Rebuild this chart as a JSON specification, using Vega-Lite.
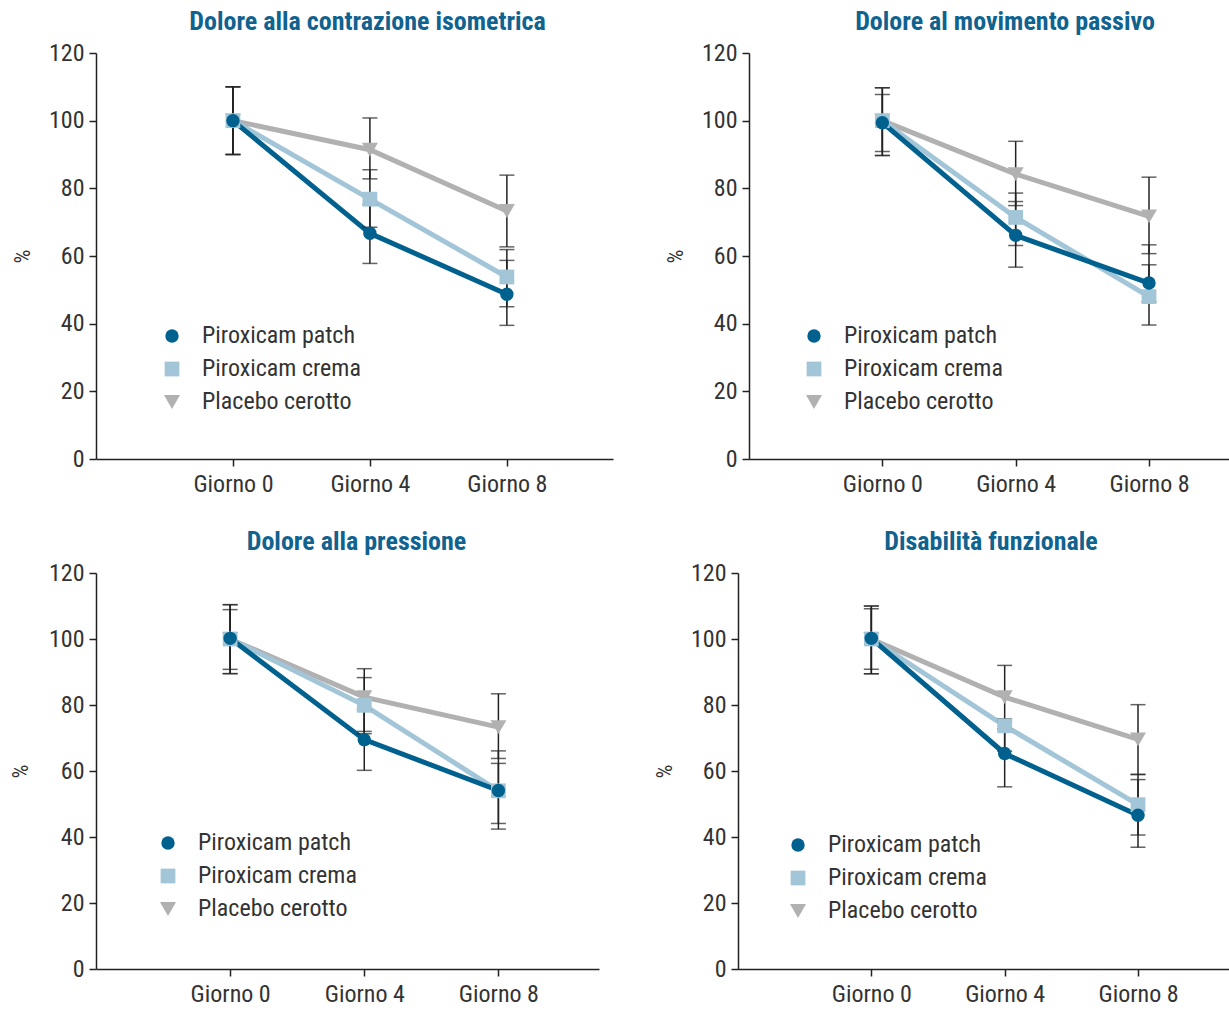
{
  "$schema": "https://vega.github.io/schema/vega-lite/v6.json",
  "background": "white",
  "padding": {"left": 9, "top": 9, "right": 0, "bottom": 0},
  "config": {
    "view": {"stroke": null},
    "font": "Roboto Condensed, Roboto, sans-serif",
    "axis": {
      "grid": false,
      "domainColor": "#222222",
      "domainWidth": 1.5,
      "tickColor": "#222222",
      "tickWidth": 1.5,
      "tickSize": 7,
      "labelFont": "Roboto Condensed, Roboto, sans-serif",
      "labelFontSize": 24,
      "labelColor": "#333333",
      "labelPadding": 5,
      "titleFont": "Roboto Condensed, Roboto, sans-serif",
      "titleFontSize": 22,
      "titleFontWeight": "normal",
      "titleColor": "#333333"
    },
    "title": {
      "font": "Roboto Condensed, Roboto, sans-serif",
      "fontSize": 26,
      "fontWeight": "bold",
      "color": "#10628f",
      "anchor": "middle",
      "frame": "group",
      "offset": 6
    },
    "legend": {
      "orient": "none",
      "title": null,
      "padding": 0,
      "symbolSize": 5329,
      "clipHeight": 26,
      "rowPadding": 7,
      "labelOffset": 18,
      "labelFontSize": 24,
      "labelColor": "#333333",
      "labelFont": "Roboto Condensed, Roboto, sans-serif"
    }
  },
  "datasets": {
    "d": [
      {"panel": "A", "series": "Placebo cerotto", "day": 0, "v": 100, "lo": 90, "hi": 110},
      {"panel": "A", "series": "Placebo cerotto", "day": 4, "v": 91.4, "lo": 82.8, "hi": 100.8},
      {"panel": "A", "series": "Placebo cerotto", "day": 8, "v": 73.3, "lo": 62.7, "hi": 83.9},
      {"panel": "A", "series": "Piroxicam crema", "day": 0, "v": 100, "lo": 90, "hi": 110},
      {"panel": "A", "series": "Piroxicam crema", "day": 4, "v": 76.8, "lo": 68.5, "hi": 85.5},
      {"panel": "A", "series": "Piroxicam crema", "day": 8, "v": 53.8, "lo": 45, "hi": 61.9},
      {"panel": "A", "series": "Piroxicam patch", "day": 0, "v": 100, "lo": 90, "hi": 110},
      {"panel": "A", "series": "Piroxicam patch", "day": 4, "v": 66.7, "lo": 57.8, "hi": 75.2},
      {"panel": "A", "series": "Piroxicam patch", "day": 8, "v": 48.7, "lo": 39.5, "hi": 58.7},

      {"panel": "B", "series": "Placebo cerotto", "day": 0, "v": 100, "lo": 89.7, "hi": 109.7},
      {"panel": "B", "series": "Placebo cerotto", "day": 4, "v": 84.2, "lo": 74.9, "hi": 93.9},
      {"panel": "B", "series": "Placebo cerotto", "day": 8, "v": 71.7, "lo": 60.7, "hi": 83.3},
      {"panel": "B", "series": "Piroxicam crema", "day": 0, "v": 100, "lo": 89.7, "hi": 109.7},
      {"panel": "B", "series": "Piroxicam crema", "day": 4, "v": 71.4, "lo": 63.1, "hi": 78.6},
      {"panel": "B", "series": "Piroxicam crema", "day": 8, "v": 48.0, "lo": 46.5, "hi": 57.4},
      {"panel": "B", "series": "Piroxicam patch", "day": 0, "v": 99.4, "lo": 90.9, "hi": 107.7},
      {"panel": "B", "series": "Piroxicam patch", "day": 4, "v": 66.1, "lo": 56.7, "hi": 76.1},
      {"panel": "B", "series": "Piroxicam patch", "day": 8, "v": 52.0, "lo": 39.6, "hi": 63.3},

      {"panel": "C", "series": "Placebo cerotto", "day": 0, "v": 100, "lo": 89.5, "hi": 110.4},
      {"panel": "C", "series": "Placebo cerotto", "day": 4, "v": 82.4, "lo": 72.0, "hi": 91.0},
      {"panel": "C", "series": "Placebo cerotto", "day": 8, "v": 73.3, "lo": 63.8, "hi": 83.4},
      {"panel": "C", "series": "Piroxicam crema", "day": 0, "v": 100, "lo": 89.5, "hi": 110.4},
      {"panel": "C", "series": "Piroxicam crema", "day": 4, "v": 79.9, "lo": 71.3, "hi": 88.3},
      {"panel": "C", "series": "Piroxicam crema", "day": 8, "v": 54.0, "lo": 44.1, "hi": 62.3},
      {"panel": "C", "series": "Piroxicam patch", "day": 0, "v": 100.2, "lo": 90.8, "hi": 108.9},
      {"panel": "C", "series": "Piroxicam patch", "day": 4, "v": 69.5, "lo": 60.2, "hi": 78.5},
      {"panel": "C", "series": "Piroxicam patch", "day": 8, "v": 54.1, "lo": 42.4, "hi": 66.1},

      {"panel": "D", "series": "Placebo cerotto", "day": 0, "v": 100, "lo": 89.5, "hi": 110},
      {"panel": "D", "series": "Placebo cerotto", "day": 4, "v": 82.4, "lo": 72.8, "hi": 92.0},
      {"panel": "D", "series": "Placebo cerotto", "day": 8, "v": 69.6, "lo": 58.9, "hi": 80.1},
      {"panel": "D", "series": "Piroxicam crema", "day": 0, "v": 100, "lo": 89.5, "hi": 110},
      {"panel": "D", "series": "Piroxicam crema", "day": 4, "v": 73.7, "lo": 66.0, "hi": 75.8},
      {"panel": "D", "series": "Piroxicam crema", "day": 8, "v": 49.8, "lo": 40.6, "hi": 59.0},
      {"panel": "D", "series": "Piroxicam patch", "day": 0, "v": 100.2, "lo": 90.8, "hi": 109.2},
      {"panel": "D", "series": "Piroxicam patch", "day": 4, "v": 65.3, "lo": 55.2, "hi": 75.1},
      {"panel": "D", "series": "Piroxicam patch", "day": 8, "v": 46.6, "lo": 36.9, "hi": 57.4}
    ]
  },
  "spacing": 33,
  "resolve": {
    "scale": {"color": "independent", "shape": "independent", "size": "independent"},
    "legend": {"color": "independent", "shape": "independent", "size": "independent"}
  },
  "vconcat": [
    {
      "spacing": 51,
      "resolve": {
        "scale": {"color": "independent", "shape": "independent", "size": "independent"},
        "legend": {"color": "independent", "shape": "independent", "size": "independent"}
      },
      "hconcat": [
        {
          "width": 517, "height": 406,
          "title": {"text": "Dolore alla contrazione isometrica", "dx": 13},
          "data": {"name": "d"},
          "transform": [{"filter": "datum.panel === 'A'"}],
          "encoding": {
            "x": {"field": "day", "type": "quantitative", "scale": {"domain": [-4, 11.1], "nice": false, "zero": false}, "axis": {"values": [0, 4, 8], "labelExpr": "'Giorno ' + datum.value", "title": null, "labelPadding": 6}}
          },
          "layer": [
            {"mark": {"type": "line", "strokeWidth": 5}, "encoding": {"y": {"field": "v", "type": "quantitative", "title": "%", "scale": {"domain": [0, 120], "nice": false}, "axis": {"values": [0, 20, 40, 60, 80, 100, 120], "title": "%", "titlePadding": 14}}, "color": {"field": "series", "type": "nominal", "scale": {"domain": ["Piroxicam patch", "Piroxicam crema", "Placebo cerotto"], "range": ["#00618e", "#a3c5d8", "#b1b1b1"]},
                "legend": {"legendX": 64, "legendY": 270, "encode": {"symbols": {"update": {"shape": {"signal": "datum.value === 'Piroxicam patch' ? 'M-1,-0.07H1V0.07H-1Z M-0.2,0A0.2,0.2 0 1,1 0.2,0A0.2,0.2 0 1,1 -0.2,0Z' : datum.value === 'Piroxicam crema' ? 'M-1,-0.07H1V0.07H-1Z M-0.22,-0.22H0.22V0.22H-0.22Z' : 'M-1,-0.07H1V0.07H-1Z M-0.27,-0.16H0.27L0,0.38Z'"}, "size": {"value": 5329}, "strokeWidth": {"value": 0}, "fill": {"signal": "datum.value === 'Piroxicam patch' ? '#00618e' : datum.value === 'Piroxicam crema' ? '#a3c5d8' : '#b1b1b1'"}, "opacity": {"value": 1}}}}}}}},
            {"mark": {"type": "errorbar", "ticks": {"size": 15, "thickness": 1.5, "color": "#222222"}, "rule": {"strokeWidth": 1.5, "color": "#222222"}}, "encoding": {"y": {"field": "lo", "type": "quantitative", "title": "%"}, "y2": {"field": "hi"}}},
            {"mark": {"type": "point", "filled": true, "opacity": 1}, "encoding": {"y": {"field": "v", "type": "quantitative", "title": "%"},
              "color": {"field": "series", "type": "nominal", "scale": {"domain": ["Piroxicam patch", "Piroxicam crema", "Placebo cerotto"], "range": ["#00618e", "#a3c5d8", "#b1b1b1"]}},
              "shape": {"field": "series", "type": "nominal", "scale": {"domain": ["Piroxicam patch", "Piroxicam crema", "Placebo cerotto"], "range": ["circle", "square", "triangle-down"]}, "legend": null},
              "size": {"field": "series", "type": "nominal", "scale": {"domain": ["Piroxicam patch", "Piroxicam crema", "Placebo cerotto"], "range": [180, 256, 320]}, "legend": null}}}
          ]
        },
        {
          "width": 500, "height": 406,
          "title": {"text": "Dolore al movimento passivo", "dx": 6},
          "data": {"name": "d"},
          "transform": [{"filter": "datum.panel === 'B'"}],
          "encoding": {
            "x": {"field": "day", "type": "quantitative", "scale": {"domain": [-4, 11], "nice": false, "zero": false}, "axis": {"values": [0, 4, 8], "labelExpr": "'Giorno ' + datum.value", "title": null, "labelPadding": 6}}
          },
          "layer": [
            {"mark": {"type": "line", "strokeWidth": 5}, "encoding": {"y": {"field": "v", "type": "quantitative", "title": "%", "scale": {"domain": [0, 120], "nice": false}, "axis": {"values": [0, 20, 40, 60, 80, 100, 120], "title": "%", "titlePadding": 14}}, "color": {"field": "series", "type": "nominal", "scale": {"domain": ["Piroxicam patch", "Piroxicam crema", "Placebo cerotto"], "range": ["#00618e", "#a3c5d8", "#b1b1b1"]},
                "legend": {"legendX": 53, "legendY": 270, "encode": {"symbols": {"update": {"shape": {"signal": "datum.value === 'Piroxicam patch' ? 'M-1,-0.07H1V0.07H-1Z M-0.2,0A0.2,0.2 0 1,1 0.2,0A0.2,0.2 0 1,1 -0.2,0Z' : datum.value === 'Piroxicam crema' ? 'M-1,-0.07H1V0.07H-1Z M-0.22,-0.22H0.22V0.22H-0.22Z' : 'M-1,-0.07H1V0.07H-1Z M-0.27,-0.16H0.27L0,0.38Z'"}, "size": {"value": 5329}, "strokeWidth": {"value": 0}, "fill": {"signal": "datum.value === 'Piroxicam patch' ? '#00618e' : datum.value === 'Piroxicam crema' ? '#a3c5d8' : '#b1b1b1'"}, "opacity": {"value": 1}}}}}}}},
            {"mark": {"type": "errorbar", "ticks": {"size": 15, "thickness": 1.5, "color": "#222222"}, "rule": {"strokeWidth": 1.5, "color": "#222222"}}, "encoding": {"y": {"field": "lo", "type": "quantitative", "title": "%"}, "y2": {"field": "hi"}}},
            {"mark": {"type": "point", "filled": true, "opacity": 1}, "encoding": {"y": {"field": "v", "type": "quantitative", "title": "%"},
              "color": {"field": "series", "type": "nominal", "scale": {"domain": ["Piroxicam patch", "Piroxicam crema", "Placebo cerotto"], "range": ["#00618e", "#a3c5d8", "#b1b1b1"]}},
              "shape": {"field": "series", "type": "nominal", "scale": {"domain": ["Piroxicam patch", "Piroxicam crema", "Placebo cerotto"], "range": ["circle", "square", "triangle-down"]}, "legend": null},
              "size": {"field": "series", "type": "nominal", "scale": {"domain": ["Piroxicam patch", "Piroxicam crema", "Placebo cerotto"], "range": [180, 256, 320]}, "legend": null}}}
          ]
        }
      ]
    },
    {
      "spacing": 54,
      "resolve": {
        "scale": {"color": "independent", "shape": "independent", "size": "independent"},
        "legend": {"color": "independent", "shape": "independent", "size": "independent"}
      },
      "hconcat": [
        {
          "width": 503, "height": 396,
          "title": {"text": "Dolore alla pressione", "dx": 9},
          "data": {"name": "d"},
          "transform": [{"filter": "datum.panel === 'C'"}],
          "encoding": {
            "x": {"field": "day", "type": "quantitative", "scale": {"domain": [-4, 11], "nice": false, "zero": false}, "axis": {"values": [0, 4, 8], "labelExpr": "'Giorno ' + datum.value", "title": null, "labelPadding": 6}}
          },
          "layer": [
            {"mark": {"type": "line", "strokeWidth": 5}, "encoding": {"y": {"field": "v", "type": "quantitative", "title": "%", "scale": {"domain": [0, 120], "nice": false}, "axis": {"values": [0, 20, 40, 60, 80, 100, 120], "title": "%", "titlePadding": 16}}, "color": {"field": "series", "type": "nominal", "scale": {"domain": ["Piroxicam patch", "Piroxicam crema", "Placebo cerotto"], "range": ["#00618e", "#a3c5d8", "#b1b1b1"]},
                "legend": {"legendX": 60, "legendY": 257, "encode": {"symbols": {"update": {"shape": {"signal": "datum.value === 'Piroxicam patch' ? 'M-1,-0.07H1V0.07H-1Z M-0.2,0A0.2,0.2 0 1,1 0.2,0A0.2,0.2 0 1,1 -0.2,0Z' : datum.value === 'Piroxicam crema' ? 'M-1,-0.07H1V0.07H-1Z M-0.22,-0.22H0.22V0.22H-0.22Z' : 'M-1,-0.07H1V0.07H-1Z M-0.27,-0.16H0.27L0,0.38Z'"}, "size": {"value": 5329}, "strokeWidth": {"value": 0}, "fill": {"signal": "datum.value === 'Piroxicam patch' ? '#00618e' : datum.value === 'Piroxicam crema' ? '#a3c5d8' : '#b1b1b1'"}, "opacity": {"value": 1}}}}}}}},
            {"mark": {"type": "errorbar", "ticks": {"size": 15, "thickness": 1.5, "color": "#222222"}, "rule": {"strokeWidth": 1.5, "color": "#222222"}}, "encoding": {"y": {"field": "lo", "type": "quantitative", "title": "%"}, "y2": {"field": "hi"}}},
            {"mark": {"type": "point", "filled": true, "opacity": 1}, "encoding": {"y": {"field": "v", "type": "quantitative", "title": "%"},
              "color": {"field": "series", "type": "nominal", "scale": {"domain": ["Piroxicam patch", "Piroxicam crema", "Placebo cerotto"], "range": ["#00618e", "#a3c5d8", "#b1b1b1"]}},
              "shape": {"field": "series", "type": "nominal", "scale": {"domain": ["Piroxicam patch", "Piroxicam crema", "Placebo cerotto"], "range": ["circle", "square", "triangle-down"]}, "legend": null},
              "size": {"field": "series", "type": "nominal", "scale": {"domain": ["Piroxicam patch", "Piroxicam crema", "Placebo cerotto"], "range": [180, 256, 320]}, "legend": null}}}
          ]
        },
        {
          "width": 500, "height": 396,
          "title": {"text": "Disabilità funzionale", "dx": 3},
          "data": {"name": "d"},
          "transform": [{"filter": "datum.panel === 'D'"}],
          "encoding": {
            "x": {"field": "day", "type": "quantitative", "scale": {"domain": [-4, 11], "nice": false, "zero": false}, "axis": {"values": [0, 4, 8], "labelExpr": "'Giorno ' + datum.value", "title": null, "labelPadding": 6}}
          },
          "layer": [
            {"mark": {"type": "line", "strokeWidth": 5}, "encoding": {"y": {"field": "v", "type": "quantitative", "title": "%", "scale": {"domain": [0, 120], "nice": false}, "axis": {"values": [0, 20, 40, 60, 80, 100, 120], "title": "%", "titlePadding": 14}}, "color": {"field": "series", "type": "nominal", "scale": {"domain": ["Piroxicam patch", "Piroxicam crema", "Placebo cerotto"], "range": ["#00618e", "#a3c5d8", "#b1b1b1"]},
                "legend": {"legendX": 48, "legendY": 259, "encode": {"symbols": {"update": {"shape": {"signal": "datum.value === 'Piroxicam patch' ? 'M-1,-0.07H1V0.07H-1Z M-0.2,0A0.2,0.2 0 1,1 0.2,0A0.2,0.2 0 1,1 -0.2,0Z' : datum.value === 'Piroxicam crema' ? 'M-1,-0.07H1V0.07H-1Z M-0.22,-0.22H0.22V0.22H-0.22Z' : 'M-1,-0.07H1V0.07H-1Z M-0.27,-0.16H0.27L0,0.38Z'"}, "size": {"value": 5329}, "strokeWidth": {"value": 0}, "fill": {"signal": "datum.value === 'Piroxicam patch' ? '#00618e' : datum.value === 'Piroxicam crema' ? '#a3c5d8' : '#b1b1b1'"}, "opacity": {"value": 1}}}}}}}},
            {"mark": {"type": "errorbar", "ticks": {"size": 15, "thickness": 1.5, "color": "#222222"}, "rule": {"strokeWidth": 1.5, "color": "#222222"}}, "encoding": {"y": {"field": "lo", "type": "quantitative", "title": "%"}, "y2": {"field": "hi"}}},
            {"mark": {"type": "point", "filled": true, "opacity": 1}, "encoding": {"y": {"field": "v", "type": "quantitative", "title": "%"},
              "color": {"field": "series", "type": "nominal", "scale": {"domain": ["Piroxicam patch", "Piroxicam crema", "Placebo cerotto"], "range": ["#00618e", "#a3c5d8", "#b1b1b1"]}},
              "shape": {"field": "series", "type": "nominal", "scale": {"domain": ["Piroxicam patch", "Piroxicam crema", "Placebo cerotto"], "range": ["circle", "square", "triangle-down"]}, "legend": null},
              "size": {"field": "series", "type": "nominal", "scale": {"domain": ["Piroxicam patch", "Piroxicam crema", "Placebo cerotto"], "range": [180, 256, 320]}, "legend": null}}}
          ]
        }
      ]
    }
  ]
}
